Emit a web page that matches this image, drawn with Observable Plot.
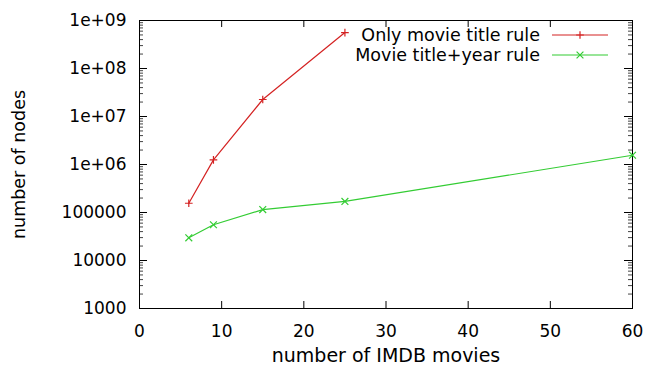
<!DOCTYPE html>
<html><head><meta charset="utf-8">
<script src="https://cdn.jsdelivr.net/npm/d3@7"></script>
<script src="https://cdn.jsdelivr.net/npm/@observablehq/plot@0.6"></script>
<style>html,body{margin:0;padding:0;background:#fff} svg{display:block}</style>
</head><body><div id="chart"></div>
<script>
// ---- data ----
const seriesNames = ["Only movie title rule", "Movie title+year rule"];
const titleMovies = [6, 9, 15, 25];
const titleNodes = [156000, 1250000, 22600000, 560000000];
const yearMovies = [6, 9, 15, 25, 60];
const yearNodes = [29700, 55500, 115000, 170000, 1560000];
const xTicks = [0, 10, 20, 30, 40, 50, 60];
const yTicks = [1e3, 1e4, 1e5, 1e6, 1e7, 1e8, 1e9];
const yTickLabels = ["1000", "10000", "100000", "1e+06", "1e+07", "1e+08", "1e+09"];
const colors = ["#d42222", "#33cc33"];
const symbols = ["plus", "times"];
const xLabel = "number of IMDB movies";
const yLabel = "number of nodes";

// ---- build ----
const W = 648, H = 367;
const M = {top: 20, right: 16, bottom: 59, left: 139};
const innerW = W - M.left - M.right, innerH = H - M.top - M.bottom;
const font = "DejaVu Sans";

const rows = [
  ...titleMovies.map((x, i) => ({series: seriesNames[0], x, y: titleNodes[i]})),
  ...yearMovies.map((x, i) => ({series: seriesNames[1], x, y: yearNodes[i]}))
];
const minorTicks = yTicks.slice(0, -1).flatMap(d => d3.range(2, 10).map(k => d * k));

const majorLen = 8, minorLen = 4, xTickLen = 7;

const plot = Plot.plot({
  width: W, height: H,
  marginTop: M.top, marginRight: M.right, marginBottom: M.bottom, marginLeft: M.left,
  style: {fontFamily: font, fontSize: "17px", color: "#000", background: "#fff"},
  x: {domain: [0, 60], label: null},
  y: {type: "log", domain: [1e3, 1e9], label: null},
  marks: [
    // ticks (inward, mirrored)
    Plot.tickY(yTicks, {y: d => d, insetRight: innerW - majorLen, stroke: "#000"}),
    Plot.tickY(yTicks, {y: d => d, insetLeft: innerW - majorLen, stroke: "#000"}),
    Plot.tickY(minorTicks, {y: d => d, insetRight: innerW - minorLen, stroke: "#444"}),
    Plot.tickY(minorTicks, {y: d => d, insetLeft: innerW - minorLen, stroke: "#444"}),
    Plot.tickX(xTicks, {x: d => d, insetTop: innerH - xTickLen, stroke: "#000"}),
    Plot.tickX(xTicks, {x: d => d, insetBottom: innerH - xTickLen, stroke: "#000"}),
    Plot.axisX({ticks: xTicks, tickSize: 0, tickPadding: 16, label: null, fontSize: 17}),
    Plot.axisY({ticks: yTicks, tickSize: 0, tickPadding: 13, label: null, fontSize: 17,
      tickFormat: d => yTickLabels[yTicks.indexOf(d)]}),
    Plot.frame({stroke: "#000"}),
    // series
    Plot.line(rows, {x: "x", y: "y", z: "series", stroke: d => colors[seriesNames.indexOf(d.series)], strokeWidth: 1.2}),
    Plot.dot(rows.filter(d => d.series === seriesNames[0]), {x: "x", y: "y", symbol: () => symbols[0], r: 2.6, stroke: colors[0], strokeWidth: 1.2}),
    Plot.dot(rows.filter(d => d.series === seriesNames[1]), {x: "x", y: "y", symbol: () => symbols[1], r: 3.2, stroke: colors[1], strokeWidth: 1.2}),
    // axis labels
    Plot.text([xLabel], {text: d => d, frameAnchor: "bottom", textAnchor: "middle", lineAnchor: "middle", dy: 47, fontSize: 19, fill: "#000"}),
    Plot.text([yLabel], {text: d => d, frameAnchor: "left", textAnchor: "middle", lineAnchor: "middle", rotate: -90, dx: -120, fontSize: 17.5, fill: "#000"})
  ]
});

// legend (inside plot, top-right)
const svg = d3.select(plot);
const leg = svg.append("g").attr("font-family", font).attr("font-size", 17.5);
seriesNames.forEach((name, i) => {
  const cy = 35 + i * 20;
  leg.append("text").attr("x", 540).attr("y", cy).attr("dy", "0.35em")
    .attr("text-anchor", "end").attr("fill", "#000").text(name);
  leg.append("line").attr("x1", 552).attr("x2", 608).attr("y1", cy).attr("y2", cy)
    .attr("stroke", colors[i]).attr("stroke-width", 1.2);
  const sym = i === 0 ? d3.symbolPlus : d3.symbolTimes;
  leg.append("path").attr("transform", `translate(580,${cy})`)
    .attr("d", d3.symbol(sym, i === 0 ? 2.6 * 2.6 * Math.PI : 3.2 * 3.2 * Math.PI)())
    .attr("fill", "none").attr("stroke", colors[i]).attr("stroke-width", 1.2);
});

document.getElementById("chart").appendChild(plot);
</script>
</body></html>
